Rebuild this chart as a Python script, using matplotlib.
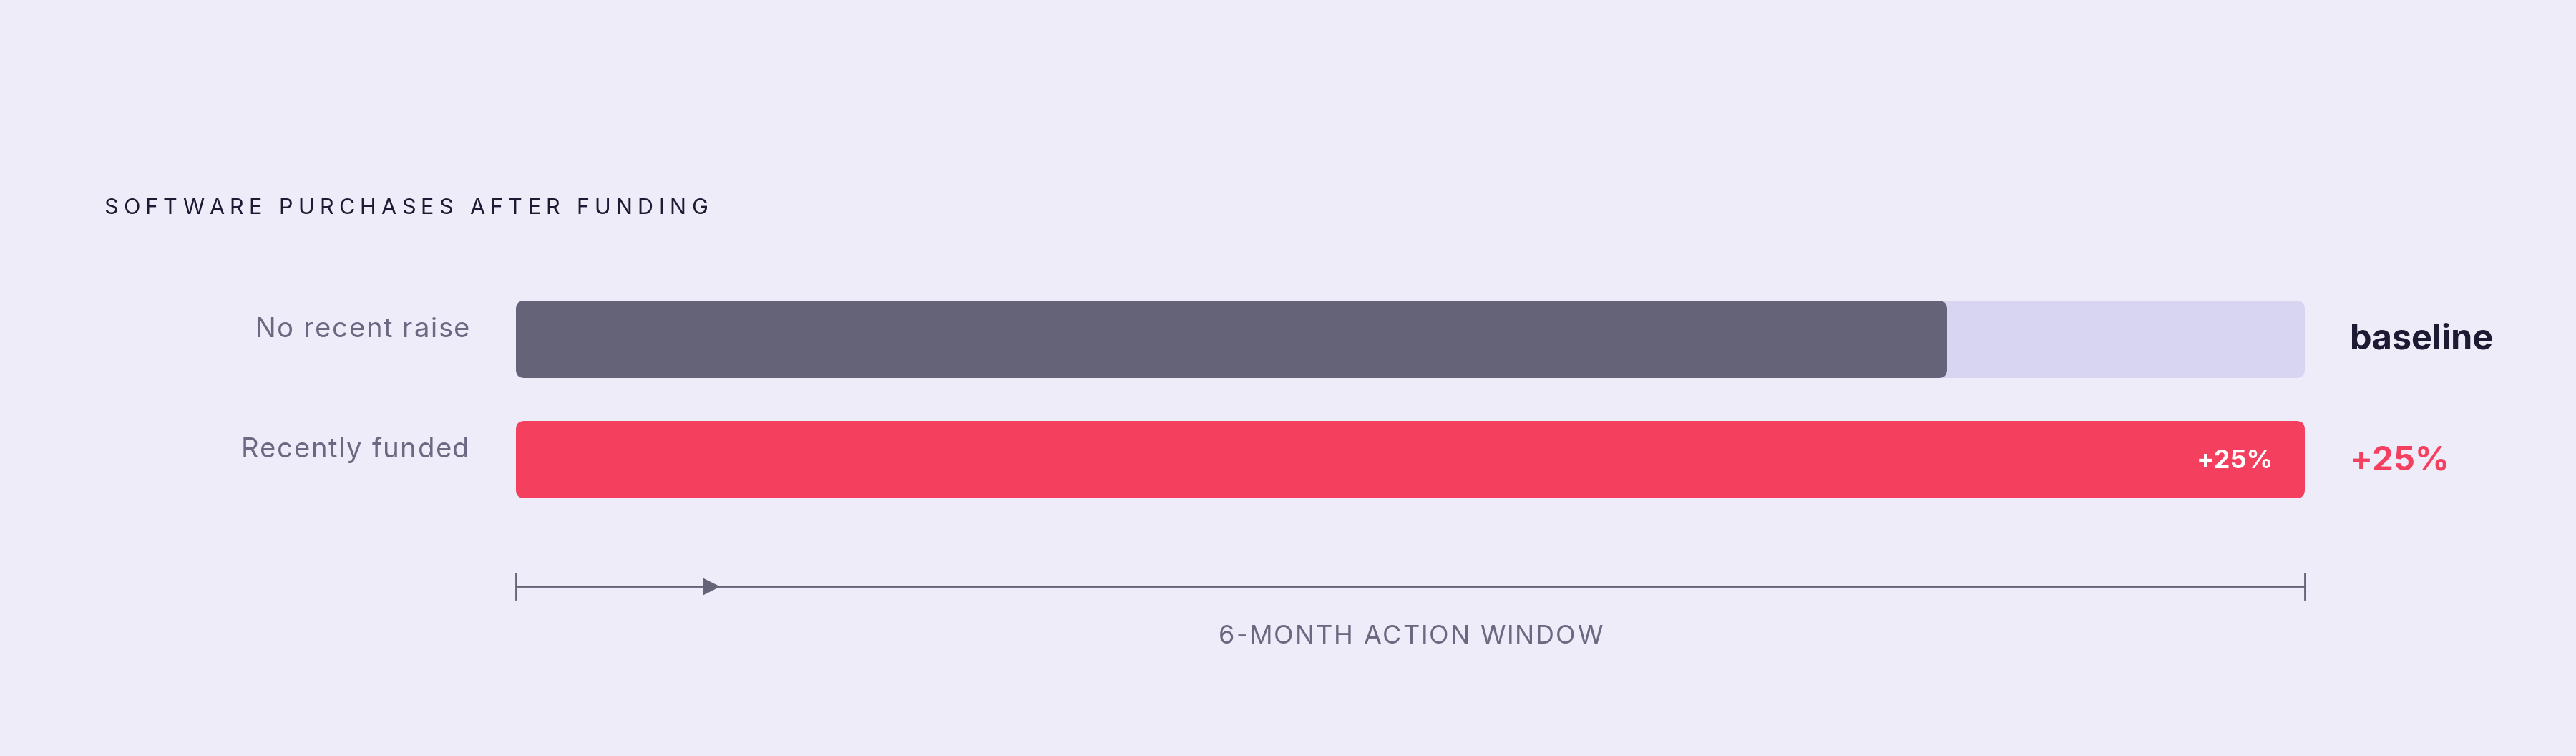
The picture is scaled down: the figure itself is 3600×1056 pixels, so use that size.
import numpy as np
import matplotlib.pyplot as plt
from matplotlib.patches import FancyBboxPatch

plt.rcParams['font.family'] = ['Inter', 'DejaVu Sans']

# data
groups = ['No recent raise', 'Recently funded']
values = [100, 125]          # purchases index, baseline = 100
track_max = 125
end_labels = ['baseline', '+25%']
inner_label = '+25%'
title = 'SOFTWARE PURCHASES AFTER FUNDING'
window_label = '6-MONTH ACTION WINDOW'
window_start, window_end = 0, 125
window_marker = 13.65

# colours
BG = '#EEECF9'
TRACK = '#D8D5F0'
GREY = '#646378'
RED = '#F43F5E'
INK = '#1D1B33'
MUTED = '#6B6882'

fig = plt.figure(figsize=(36, 10.56), dpi=100)
fig.patch.set_facecolor(BG)
ax = fig.add_axes([0, 0, 1, 1])
ax.set_facecolor(BG)
ax.axis('off')

# 20 px per x unit, 168 px per row
px_x, px_y = 20, 168
ax.set_xlim(-721 / px_x, (3600 - 721) / px_x)
ax.set_ylim((1056 - 474) / px_y, -474 / px_y)

bar_h = 108 / px_y
radius = 12 / px_x


def rounded_bar(x0, w, y, color, z):
    p = FancyBboxPatch((x0, y - bar_h / 2), w, bar_h,
                       boxstyle='round,pad=0,rounding_size=%f' % radius,
                       mutation_aspect=px_x / px_y,
                       fc=color, ec='none', zorder=z)
    ax.add_patch(p)


renderer = fig.canvas.get_renderer()


def ink_width(s, **kw):
    if not s.strip():
        return 0.0
    t = ax.text(0, 0, s, **kw)
    w = t.get_window_extent(renderer).width
    t.remove()
    return w


def tracked_text(x, y, s, spacing, ha='left', **kw):
    # letter-spaced text, spacing in pixels
    total = ink_width(s, **kw) + spacing * (len(s) - 1)
    if ha == 'center':
        x = x - total / 2 / px_x
    elif ha == 'right':
        x = x - total / px_x
    for i, ch in enumerate(s):
        if ch == ' ':
            continue
        off = ink_width(s[:i + 1], **kw) - ink_width(ch, **kw) + i * spacing
        ax.text(x + off / px_x, y, ch, ha='left', **kw)


# title
tracked_text(-28.8, -1.042, title, 7.3, fontsize=22, color=INK, va='baseline')

# bars
for i, (g, v) in enumerate(zip(groups, values)):
    tracked_text(-3.25, i - 0.018, g, 1.6, ha='right', va='baseline',
                 fontsize=27.5, color=MUTED)
    if i == 0:
        rounded_bar(0, track_max, i, TRACK, 1)
        rounded_bar(0, v, i, GREY, 2)
    else:
        rounded_bar(0, v, i, RED, 2)

ax.text(122.8, 1.071, inner_label, ha='right', va='baseline', fontsize=26,
        fontweight='bold', color='white', zorder=3)
ax.text(128.15, 0.083, end_labels[0], ha='left', va='baseline', fontsize=35,
        fontweight='bold', color=INK)
ax.text(128.15, 1.089, end_labels[1], ha='left', va='baseline', fontsize=34,
        fontweight='bold', color=RED)

# action window axis
axis_y = 345 / px_y
tick = 18 / px_y
ax.plot([window_start, window_end], [axis_y, axis_y], color=GREY, lw=2.0,
        solid_capstyle='butt')
for xt in (window_start, window_end):
    ax.plot([xt, xt], [axis_y - tick, axis_y + tick], color=GREY, lw=2.0)
ax.plot(window_marker, axis_y, marker='>', ms=17, color=GREY, mec='none')
tracked_text((window_start + window_end) / 2, 425 / px_y, window_label, 2.0,
             ha='center', fontsize=26, color=MUTED, va='baseline')

fig.savefig('out.png', dpi=100, facecolor=BG)
